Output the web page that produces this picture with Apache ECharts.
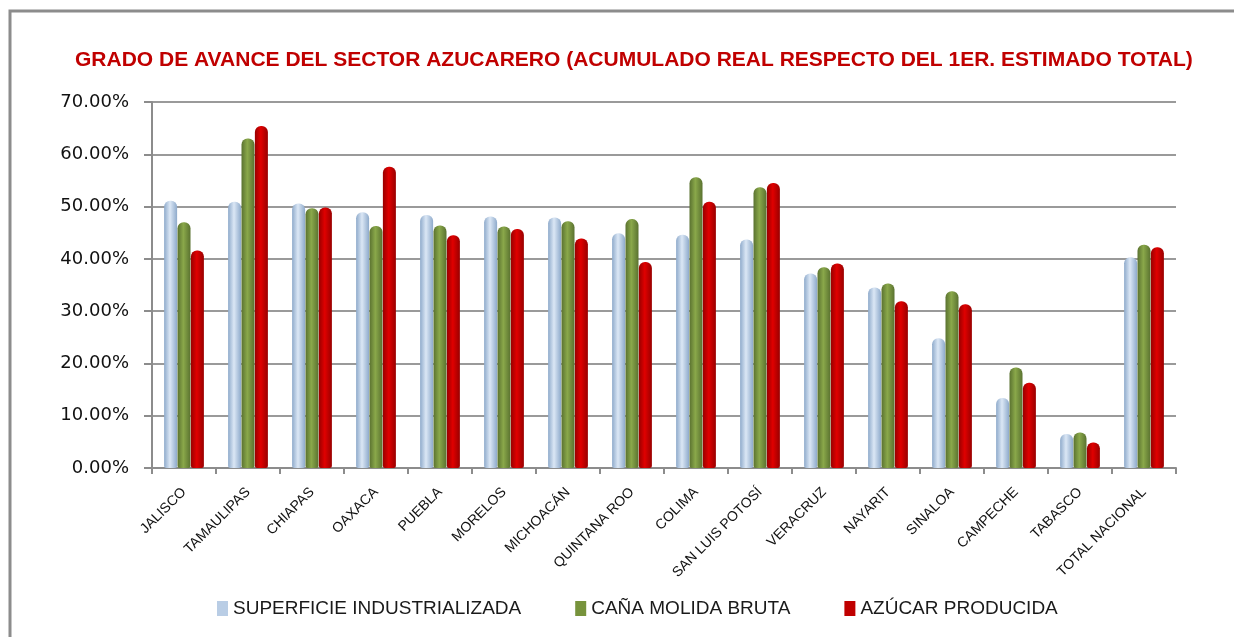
<!DOCTYPE html>
<html>
<head>
<meta charset="utf-8">
<script src="https://cdn.jsdelivr.net/npm/echarts@6/dist/echarts.min.js"></script>
<style>
  html, body { margin: 0; padding: 0; background: #fff; }
  #chart { width: 1234px; height: 637px; }
</style>
</head>
<body>
<div id="chart"></div>
<script>
var categories = ['JALISCO', 'TAMAULIPAS', 'CHIAPAS', 'OAXACA', 'PUEBLA', 'MORELOS', 'MICHOACÁN',
    'QUINTANA ROO', 'COLIMA', 'SAN LUIS POTOSÍ', 'VERACRUZ', 'NAYARIT', 'SINALOA', 'CAMPECHE',
    'TABASCO', 'TOTAL NACIONAL'];
var superficie = [51.1, 50.9, 50.6, 48.9, 48.4, 48.1, 47.9, 44.9, 44.6, 43.7, 37.2, 34.5, 24.8, 13.4, 6.5, 40.3];
var cana       = [47.0, 63.0, 49.7, 46.3, 46.4, 46.2, 47.2, 47.6, 55.6, 53.7, 38.4, 35.3, 33.8, 19.2, 6.8, 42.7];
var azucar     = [41.6, 65.4, 49.8, 57.6, 44.5, 45.7, 43.9, 39.4, 50.9, 54.5, 39.1, 31.9, 31.3, 16.3, 4.9, 42.2];
var yTicks = [0, 10, 20, 30, 40, 50, 60, 70];

var chart = echarts.init(document.getElementById('chart'));

// cylinder look: darker edges, lighter middle
function tube(edge, mid) {
    return new echarts.graphic.LinearGradient(0, 0, 1, 0, [
        { offset: 0, color: edge },
        { offset: 0.45, color: mid },
        { offset: 1, color: edge }
    ]);
}

function barSeries(name, data, edge, mid) {
    return {
        name: name,
        type: 'bar',
        data: data,
        barWidth: 13,
        barGap: '3%',
        itemStyle: {
            color: tube(edge, mid),
            borderRadius: [6, 6, 2, 2]
        }
    };
}

var font = '"Liberation Sans Narrow", "Liberation Sans", sans-serif';

chart.setOption({
    animation: false,
    graphic: [{
        type: 'rect',
        shape: { x: 10, y: 11, width: 1400, height: 800 },
        style: { fill: 'none', stroke: '#8c8c8c', lineWidth: 3 }
    }],
    title: {
        text: 'GRADO DE AVANCE DEL SECTOR AZUCARERO (ACUMULADO REAL RESPECTO DEL 1ER. ESTIMADO TOTAL)',
        left: 70,
        top: 45,
        textStyle: { color: '#c00000', fontSize: 21, fontWeight: 'bold', fontFamily: font }
    },
    legend: {
        left: 212,
        top: 594,
        itemWidth: 11,
        itemHeight: 15,
        itemGap: 54,
        icon: 'rect',
        textStyle: { fontSize: 19, color: '#1a1a1a', fontFamily: font },
        data: [
            { name: 'SUPERFICIE INDUSTRIALIZADA', itemStyle: { color: '#b9cde5' } },
            { name: 'CAÑA MOLIDA BRUTA', itemStyle: { color: '#77933c' } },
            { name: 'AZÚCAR PRODUCIDA', itemStyle: { color: '#c00000' } }
        ]
    },
    grid: { left: 152, right: 58, top: 102, bottom: 169 },
    xAxis: {
        type: 'category',
        data: categories,
        axisLine: { lineStyle: { color: '#8c8c8c', width: 2 } },
        axisTick: { show: true, length: 6, lineStyle: { color: '#8c8c8c', width: 2 } },
        axisLabel: {
            rotate: 45,
            interval: 0,
            fontSize: 14,
            color: '#111',
            fontFamily: font,
            margin: 22
        }
    },
    yAxis: {
        type: 'value',
        min: 0,
        max: 70,
        interval: 10,
        axisLine: { show: true, lineStyle: { color: '#8c8c8c', width: 2 } },
        axisTick: { show: true, length: 8, lineStyle: { color: '#8c8c8c', width: 2 } },
        splitLine: { lineStyle: { color: '#9a9a9a', width: 2 } },
        axisLabel: {
            fontSize: 18,
            color: '#111',
            fontFamily: '"DejaVu Sans", sans-serif',
            margin: 23,
            formatter: function (v) {
                return yTicks.indexOf(v) >= 0 ? v.toFixed(2) + '%' : '';
            }
        }
    },
    series: [
        barSeries('SUPERFICIE INDUSTRIALIZADA', superficie, '#8eaacb', '#dbe7f5'),
        barSeries('CAÑA MOLIDA BRUTA', cana, '#5a7230', '#8aa84a'),
        barSeries('AZÚCAR PRODUCIDA', azucar, '#990000', '#e00000')
    ]
});
</script>
</body>
</html>
